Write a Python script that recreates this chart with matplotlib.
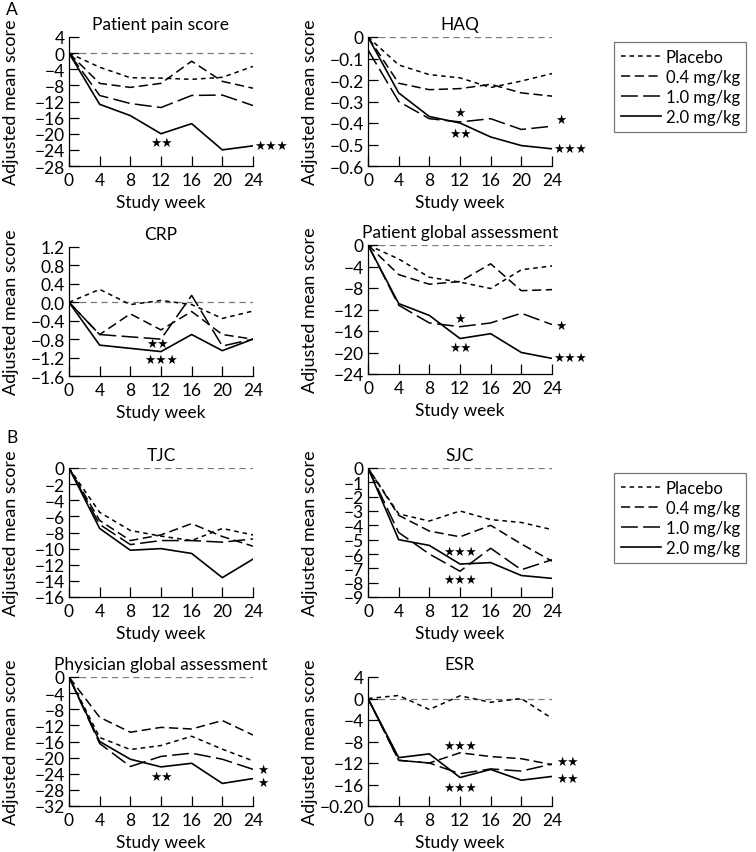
import matplotlib
matplotlib.use("Agg")
import matplotlib.pyplot as plt
from matplotlib.lines import Line2D

plt.rcParams['font.family'] = ['Lato', 'DejaVu Sans']

weeks = [0, 4, 8, 12, 16, 20, 24]
series_names = ["Placebo", "0.4 mg/kg", "1.0 mg/kg", "2.0 mg/kg"]

# ---- Panel A ----
pain_placebo = [0, -3.5, -6.1, -6.2, -6.5, -6.0, -3.3]
pain_04 = [0, -7.5, -8.5, -7.5, -2.0, -7.0, -8.7]
pain_10 = [0, -10.5, -12.5, -13.5, -10.5, -10.4, -13.0]
pain_20 = [0, -12.7, -15.5, -20.0, -17.5, -24.0, -23.0]

haq_placebo = [0, -0.13, -0.175, -0.19, -0.235, -0.205, -0.17]
haq_04 = [0, -0.215, -0.245, -0.24, -0.22, -0.26, -0.275]
haq_10 = [-0.06, -0.30, -0.38, -0.395, -0.38, -0.43, -0.415]
haq_20 = [0, -0.26, -0.37, -0.40, -0.465, -0.505, -0.52]

crp_placebo = [0, 0.28, -0.05, 0.04, -0.05, -0.35, -0.19]
crp_04 = [0, -0.7, -0.25, -0.6, -0.2, -0.7, -0.8]
crp_10 = [0, -0.7, -0.75, -0.8, 0.15, -0.95, -0.8]
crp_20 = [0, -0.93, -1.0, -1.07, -0.7, -1.05, -0.8]

pga_placebo = [0, -2.6, -6.0, -6.9, -8.1, -4.6, -3.9]
pga_04 = [0, -5.5, -7.3, -6.8, -3.5, -8.5, -8.3]
pga_10 = [0, -11.2, -14.5, -15.2, -14.5, -12.7, -14.8]
pga_20 = [0, -10.9, -13.1, -17.4, -16.5, -20.0, -21.1]

# ---- Panel B ----
tjc_placebo = [0, -5.5, -7.75, -8.45, -9.0, -7.5, -8.3]
tjc_04 = [0, -6.5, -9.0, -8.3, -6.9, -8.5, -9.7]
tjc_10 = [0, -7.0, -9.5, -9.0, -9.0, -9.2, -8.8]
tjc_20 = [0, -7.5, -10.2, -10.0, -10.6, -13.6, -11.3]

sjc_placebo = [0, -3.2, -3.7, -3.0, -3.6, -3.8, -4.3]
sjc_04 = [0, -3.3, -4.4, -4.8, -4.0, -5.3, -6.5]
sjc_10 = [0, -4.5, -6.0, -7.2, -5.6, -7.1, -6.4]
sjc_20 = [0, -5.0, -5.4, -6.7, -6.6, -7.5, -7.7]

phys_placebo = [0, -15.0, -18.0, -17.0, -14.7, -17.9, -20.8]
phys_04 = [0, -10.0, -13.7, -12.5, -12.9, -10.8, -14.4]
phys_10 = [0, -16.5, -22.2, -19.7, -18.9, -20.4, -22.9]
phys_20 = [0, -16.0, -20.4, -22.3, -21.4, -26.4, -25.2]

esr_placebo = [0, 0.56, -2.05, 0.5, -0.7, 0.0, -3.7]
esr_04 = [0, -11.5, -12.0, -10.1, -10.8, -11.2, -12.3]
esr_10 = [0, -11.5, -12.0, -14.0, -13.1, -13.5, -12.2]
esr_20 = [0, -11.0, -10.3, -14.7, -13.2, -15.2, -14.5]

# tick values and labels
pain_ticks = [4, 0, -4, -8, -12, -16, -20, -24, -28]
pain_labels = ["4", "0", "\u22124", "\u22128", "\u221212", "\u221216", "\u221220", "\u221224", "\u221228"]
haq_ticks = [0, -0.1, -0.2, -0.3, -0.4, -0.5, -0.6]
haq_labels = ["0", "\u22120.1", "\u22120.2", "\u22120.3", "\u22120.4", "\u22120.5", "\u22120.6"]
crp_ticks = [1.2, 0.8, 0.4, 0.0, -0.4, -0.8, -1.2, -1.6]
crp_labels = ["1.2", "0.8", "0.4", "0.0", "\u22120.4", "\u22120.8", "\u22121.2", "\u22121.6"]
pga_ticks = [0, -4, -8, -12, -16, -20, -24]
pga_labels = ["0", "\u22124", "\u22128", "\u221212", "\u221216", "\u221220", "\u221224"]
tjc_ticks = [0, -2, -4, -6, -8, -10, -12, -14, -16]
tjc_labels = ["0", "\u22122", "\u22124", "\u22126", "\u22128", "\u221210", "\u221212", "\u221214", "\u221216"]
sjc_ticks = [0, -1, -2, -3, -4, -5, -6, -7, -8, -9]
sjc_labels = ["0", "\u22121", "\u22122", "\u22123", "\u22124", "\u22125", "\u22126", "\u22127", "\u22128", "\u22129"]
phys_ticks = [0, -4, -8, -12, -16, -20, -24, -28, -32]
phys_labels = ["0", "\u22124", "\u22128", "\u221212", "\u221216", "\u221220", "\u221224", "\u221228", "\u221232"]
esr_ticks = [4, 0, -4, -8, -12, -16, -20]
esr_labels = ["4", "0", "\u22124", "\u22128", "\u221212", "\u221216", "\u22120.20"]
week_labels = ["0", "4", "8", "12", "16", "20", "24"]

# significance stars: (week, value, text)
pain_stars = [(12, -22.2, "★★"), (26.3, -23.0, "★★★")]
haq_stars = [(12, -0.35, "★"), (12, -0.45, "★★"), (25.2, -0.385, "★"), (26.3, -0.52, "★★★")]
crp_stars = [(11.5, -0.9, "★★"), (12, -1.23, "★★★")]
pga_stars = [(12, -13.7, "★"), (12, -19.0, "★★"), (25.2, -14.9, "★"), (26.3, -21.0, "★★★")]
tjc_stars = []
sjc_stars = [(12, -5.85, "★★★"), (12, -7.8, "★★★")]
phys_stars = [(12, -24.6, "★★"), (25.3, -22.9, "★"), (25.3, -26.1, "★")]
esr_stars = [(12, -8.8, "★★★"), (12, -16.6, "★★★"), (26.0, -11.7, "★★"), (26.0, -14.9, "★★")]

styles = [
    dict(linestyle=(0, (3.0, 2.6)), color="black", lw=1.1),
    dict(linestyle=(0, (6.0, 3.0)), color="black", lw=1.1),
    dict(linestyle=(0, (11, 3.5)), color="black", lw=1.1),
    dict(linestyle="-", color="black", lw=1.2),
]

panels = [
    ("Patient pain score", [pain_placebo, pain_04, pain_10, pain_20], pain_ticks, pain_labels, pain_stars, 38),
    ("HAQ", [haq_placebo, haq_04, haq_10, haq_20], haq_ticks, haq_labels, haq_stars, 38),
    ("CRP", [crp_placebo, crp_04, crp_10, crp_20], crp_ticks, crp_labels, crp_stars, 248),
    ("Patient global assessment", [pga_placebo, pga_04, pga_10, pga_20], pga_ticks, pga_labels, pga_stars, 246),
    ("TJC", [tjc_placebo, tjc_04, tjc_10, tjc_20], tjc_ticks, tjc_labels, tjc_stars, 469),
    ("SJC", [sjc_placebo, sjc_04, sjc_10, sjc_20], sjc_ticks, sjc_labels, sjc_stars, 469),
    ("Physician global assessment", [phys_placebo, phys_04, phys_10, phys_20], phys_ticks, phys_labels, phys_stars, 678),
    ("ESR", [esr_placebo, esr_04, esr_10, esr_20], esr_ticks, esr_labels, esr_stars, 678),
]

W, H = 756, 853
fig = plt.figure(figsize=(W / 100, H / 100), dpi=100)
fig.patch.set_facecolor("white")

lefts = [69, 368]
ax_w = 184
ax_h = 129
FS = 12.5
TFS = 12.5

for i, (title, data, ticks, labels, stars, top) in enumerate(panels):
    left = lefts[i % 2]
    ax = fig.add_axes([left / W, 1 - (top + ax_h) / H, ax_w / W, ax_h / H])
    ax.axhline(0, color="#7a7a7a", lw=0.9, linestyle=(0, (5, 3.5)), zorder=1)
    for s, vals in enumerate(data):
        ax.plot(weeks, vals, **styles[s], zorder=3)
    ax.set_xlim(0, 24)
    ax.set_ylim(min(ticks), max(ticks))
    ax.set_xticks(weeks)
    ax.set_xticklabels(week_labels, fontsize=FS)
    ax.set_yticks(ticks)
    ax.set_yticklabels(labels, fontsize=FS)
    ax.tick_params(direction="in", length=7, width=0.9, colors="black")
    ax.tick_params(axis="x", pad=4)
    ax.tick_params(axis="y", pad=3)
    for sp in ["top", "right"]:
        ax.spines[sp].set_visible(False)
    for sp in ["left", "bottom"]:
        ax.spines[sp].set_linewidth(0.9)
    ax.set_title(title, fontsize=TFS, pad=6)
    ax.set_xlabel("Study week", fontsize=TFS)
    ax.xaxis.set_label_coords(0.5, -(195 - 167) / ax_h)
    ax.set_ylabel("Adjusted mean score", fontsize=TFS + 0.5)
    ax.yaxis.set_label_coords((19 - 69) / ax_w, 0.5)
    for (sx, sy, st) in stars:
        ax.text(sx, sy, st, fontsize=9, family=["DejaVu Sans"], ha="center", va="center",
                clip_on=False, zorder=4)

fig.text(6 / W, 1 - 10 / H, "A", fontsize=TFS, ha="left", va="center")
fig.text(6 / W, 1 - 438 / H, "B", fontsize=TFS, ha="left", va="center")

handles = [Line2D([0], [0], **styles[k]) for k in range(4)]
for top in [43, 474]:
    leg = fig.legend(handles, series_names, loc="upper left",
                     bbox_to_anchor=(614 / W, 1 - top / H), fontsize=12,
                     frameon=True, fancybox=False, handlelength=2.4, handletextpad=0.3,
                     borderpad=0.4, labelspacing=0.25, borderaxespad=0)
    leg.get_frame().set_edgecolor("#555555")
    leg.get_frame().set_linewidth(0.9)

fig.savefig("out.png", dpi=100, facecolor="white")
